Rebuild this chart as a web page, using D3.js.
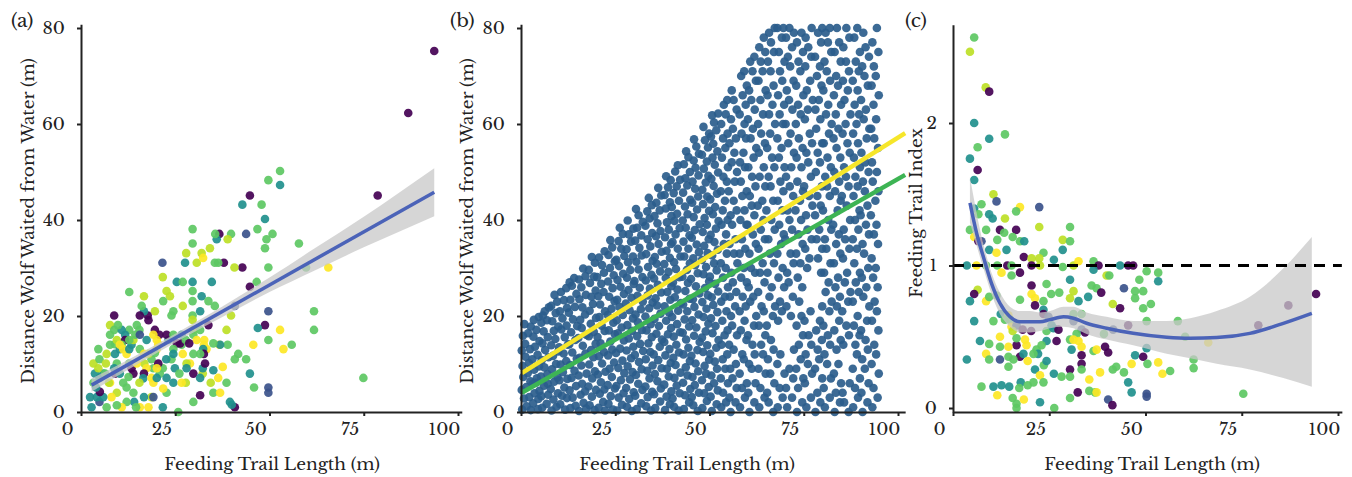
<!DOCTYPE html>
<meta charset="utf-8">
<style>
body { margin: 0; background: #fff; }
</style>
<svg width="1352" height="477"></svg>
<script src="https://d3js.org/d3.v7.min.js"></script>
<script>

var xTicks = [0, 25, 50, 75, 100];
var yTicksAB = [0, 20, 40, 60, 80];
var yTicksC = [0, 1, 2];
var panelLabels = ["(a)", "(b)", "(c)"];
var xTitle = "Feeding Trail Length (m)";
var yTitleAB = "Distance Wolf Waited from Water (m)";
var yTitleC = "Feeding Trail Index";

var font = "'Libre Baskerville'";
var fontSize = 17;

// P purple, B blue, T teal, G green, L lime, Y yellow
var palette = { P: "#440154", B: "#3b528b", T: "#21908d", G: "#5dc863", L: "#bddf26", Y: "#fde725" };

// (a) trail length vs distance waited
var pointsA = [[93.7,75.2,"P"],[86.8,62.3,"P"],[78.7,45.1,"P"],[52.8,50.2,"G"],[49.7,48.3,"G"],[52.8,47.3,"T"],[44.8,45.1,"P"],[42.8,43.2,"T"],[47.9,43.2,"G"],[48.8,40.2,"T"],[43.8,37.1,"B"],[46.8,38.1,"G"],[50.8,37.1,"G"],[49.2,36.0,"G"],[48.8,34.1,"G"],[57.8,35.1,"G"],[49.7,30.1,"G"],[42.8,30.1,"P"],[36.7,37.1,"P"],[39.8,37.1,"G"],[38.9,36.0,"L"],[29.6,38.1,"G"],[29.6,35.1,"G"],[36.0,36.0,"T"],[35.6,37.1,"G"],[34.2,34.1,"L"],[32.0,33.1,"L"],[30.7,31.1,"L"],[32.4,32.1,"Y"],[27.9,33.1,"L"],[27.6,31.1,"T"],[35.5,31.1,"G"],[37.9,31.1,"P"],[36.4,31.1,"G"],[40.7,30.1,"L"],[21.6,31.1,"B"],[21.7,28.1,"L"],[25.4,27.1,"T"],[27.0,27.1,"G"],[29.6,27.1,"T"],[34.7,27.1,"T"],[46.6,27.1,"G"],[44.8,26.1,"P"],[29.6,25.2,"G"],[22.7,25.2,"L"],[23.6,24.1,"L"],[21.8,23.1,"G"],[32.0,24.1,"T"],[29.6,23.1,"G"],[33.8,23.1,"G"],[27.0,22.1,"L"],[35.5,22.1,"G"],[40.8,22.1,"B"],[39.8,20.1,"L"],[31.6,21.0,"T"],[29.6,20.1,"G"],[24.5,21.0,"G"],[24.0,20.1,"G"],[19.6,21.0,"L"],[17.7,20.1,"P"],[16.7,21.0,"T"],[15.6,20.1,"P"],[16.7,24.1,"L"],[16.1,22.1,"G"],[8.8,20.1,"P"],[12.8,25.0,"G"],[7.7,18.1,"L"],[8.8,17.1,"G"],[12.8,17.1,"G"],[14.8,18.1,"G"],[17.9,19.1,"P"],[19.6,17.1,"P"],[20.8,16.1,"P"],[20.1,15.0,"Y"],[23.2,15.0,"T"],[22.7,16.1,"P"],[29.8,17.1,"L"],[29.6,19.2,"L"],[31.6,17.1,"G"],[33.8,18.1,"P"],[29.8,16.1,"G"],[30.7,15.0,"Y"],[38.6,17.1,"L"],[38.9,14.0,"G"],[36.7,14.0,"Y"],[32.7,15.0,"Y"],[32.6,14.0,"Y"],[33.3,13.1,"Y"],[48.8,18.1,"P"],[49.7,21.0,"B"],[52.8,17.1,"Y"],[53.7,13.1,"Y"],[55.9,14.0,"G"],[61.8,21.0,"G"],[61.8,17.1,"G"],[49.7,15.0,"G"],[46.9,17.5,"T"],[45.7,14.0,"Y"],[43.8,11.0,"G"],[41.7,12.1,"G"],[40.8,11.0,"G"],[37.6,9.4,"Y"],[44.8,8.0,"T"],[45.9,5.1,"G"],[49.7,5.1,"B"],[49.7,4.0,"B"],[74.9,7.1,"G"],[65.6,30.1,"Y"],[59.7,30.1,"G"],[39.5,2.1,"T"],[40.8,1.0,"P"],[32.4,13.1,"T"],[35.1,4.0,"G"],[36.9,4.0,"Y"],[31.6,3.5,"P"],[29.8,2.1,"G"],[29.8,8.0,"P"],[32.3,8.0,"L"],[32.3,9.1,"T"],[32.9,10.1,"P"],[32.6,12.1,"P"],[34.4,6.1,"L"],[36.4,7.1,"Y"],[36.9,14.0,"T"],[35.1,14.3,"G"],[27.8,6.1,"L"],[28.9,10.1,"Y"],[28.0,10.1,"L"],[27.0,12.1,"Y"],[26.7,14.0,"G"],[25.8,0,"G"],[26.3,14.3,"P"],[25.4,14.3,"P"],[24.5,13.1,"G"],[21.7,1.0,"T"],[24.0,11.0,"G"],[22.6,11.0,"T"],[21.7,9.1,"G"],[20.9,8.0,"G"],[22.7,7.1,"T"],[24.5,6.1,"T"],[22.7,4.0,"G"],[21.8,4.9,"Y"],[18.7,3.1,"L"],[17.9,1.0,"Y"],[15.6,1.0,"Y"],[16.7,3.1,"T"],[19.2,6.1,"Y"],[19.2,9.1,"G"],[18.7,11.0,"G"],[17.9,12.1,"L"],[20.1,13.1,"Y"],[20.5,14.1,"Y"],[19.2,16.1,"Y"],[17.4,15.0,"T"],[15.6,13.1,"G"],[16.7,12.1,"Y"],[16.8,10.1,"L"],[17.4,9.1,"Y"],[16.7,8.0,"P"],[16.5,7.0,"T"],[15.5,6.1,"L"],[13.9,4.0,"G"],[14.1,2.1,"T"],[14.6,1.0,"G"],[12.1,5.1,"G"],[12.1,2.1,"G"],[10.8,1.0,"Y"],[9.5,1.4,"G"],[9.5,4.0,"L"],[8.1,3.1,"Y"],[6.8,1.0,"G"],[4.9,2.1,"B"],[2.8,1.0,"T"],[2.4,3.1,"T"],[4.2,3.1,"T"],[5.9,3.1,"T"],[5.0,4.2,"P"],[4.0,5.1,"T"],[3.3,6.1,"G"],[4.9,7.1,"T"],[5.9,8.0,"T"],[3.7,8.0,"T"],[4.6,9.1,"L"],[3.3,10.1,"L"],[4.9,11.0,"G"],[4.6,13.1,"G"],[6.6,10.1,"L"],[6.8,12.1,"L"],[7.7,14.0,"G"],[9.0,14.1,"G"],[7.7,16.1,"G"],[6.4,8.0,"G"],[7.7,6.1,"Y"],[9.0,8.0,"P"],[9.5,10.1,"G"],[9.0,12.1,"T"],[10.3,13.1,"T"],[9.5,15.0,"L"],[11.7,16.1,"T"],[11.7,15.0,"P"],[10.8,14.0,"G"],[10.3,14.0,"Y"],[11.2,13.1,"Y"],[12.1,12.1,"Y"],[12.8,13.1,"T"],[12.8,10.1,"G"],[13.4,9.1,"P"],[13.9,8.0,"P"],[12.6,7.3,"G"],[11.2,6.1,"G"],[10.3,8.0,"T"],[8.8,9.1,"T"],[7.4,6.1,"L"],[14.8,10.1,"Y"],[13.4,14.0,"T"],[13.9,15.0,"L"],[12.8,15.0,"G"],[10.8,17.1,"T"],[9.8,18.1,"G"],[15.5,17.1,"G"],[14.4,16.1,"G"],[15.6,16.1,"B"],[31.6,7.1,"T"],[35.1,8.7,"T"],[18.7,7.1,"Y"],[20.1,7.1,"T"],[24.9,9.1,"T"],[26.1,8.0,"G"],[20.5,10.1,"P"],[19.6,12.3,"G"],[26.7,16.1,"T"],[24.5,16.1,"G"],[27.8,15.0,"G"],[28.7,14.3,"P"],[24.5,12.1,"T"],[20.1,9.1,"Y"],[31.6,12.1,"G"],[29.8,12.1,"G"],[28.0,9.1,"T"],[26.7,6.1,"Y"],[19.2,3.1,"B"],[38.6,6.1,"G"],[40.0,1.5,"T"]];
var fitA = [[2.8, 5.6], [93.7, 45.8]];
var bandA = [[2.8,4.2,7.0],[12,8.6,10.7],[25,14.5,16.3],[37.5,19.8,22.0],[50,25.0,28.0],[62,29.5,34.1],[75,34.3,40.7],[93.7,40.8,50.8]];

// (b) simulated cloud, read band by band as "x,y"
var pointsB = ("0.3,0.5 1.5,1.2 0.8,2.8 2.2,3.1 0.2,4.6 1.4,5.2 2.5,6.4 0.6,7.3 1.8,8.1 0.4,9.6 2.1,10.2 1.2,11.5 0.2,12.8 2.4,13.1 1.1,14.2 0.5,15.9 1.9,16.4 2.6,17.8 0.9,18.3 2.6,0.4 " +
  "3.2,1.8 4.5,0.6 3.6,3.9 4.9,4.4 3.1,5.9 4.2,7.0 3.5,8.8 4.8,9.5 3.0,11.0 4.4,11.9 3.7,13.6 4.9,14.8 3.3,15.7 4.1,17.1 3.4,19.2 4.7,19.8 4.6,2.7 3.9,6.1 " +
  "5.6,0.9 6.8,1.7 5.4,3.3 7.2,3.6 6.1,5.5 5.3,7.4 7.0,7.9 6.2,9.3 5.5,10.8 7.3,11.4 6.4,12.9 5.7,14.3 7.1,15.6 6.0,16.8 5.4,18.6 6.9,19.1 6.3,21.0 7.4,21.8 5.8,20.1 7.1,5.9 " +
  "8.1,0.3 9.4,1.1 8.6,2.6 9.8,3.9 7.9,4.8 8.8,6.3 9.7,7.2 8.2,8.9 9.3,10.0 8.5,11.7 9.9,12.6 8.0,13.9 9.1,15.2 8.7,16.9 9.9,17.8 8.3,18.9 9.2,20.6 8.0,22.1 9.6,23.0 8.9,24.4 " +
  "10.4,1.6 11.7,0.5 12.2,2.9 10.9,3.4 11.5,5.1 10.2,6.6 12.3,6.9 11.1,8.3 10.5,9.9 12.0,10.6 11.3,12.2 10.1,13.5 12.4,14.0 11.6,15.6 10.7,17.2 12.1,18.0 11.0,19.5 10.3,21.0 12.2,21.7 11.4,23.3 10.6,25.0 12.0,25.8 " +
  "13.1,0.8 14.5,1.3 13.7,3.0 12.9,4.5 14.6,5.4 13.4,7.1 14.2,8.6 13.0,9.8 14.8,11.1 13.6,12.4 12.8,14.1 14.4,15.0 13.3,16.6 14.9,17.9 13.8,19.3 12.7,20.7 14.3,21.9 13.1,23.4 14.7,24.6 13.5,26.3 14.1,27.9 12.9,27.0 " +
  "15.4,0.2 16.6,1.9 17.3,0.7 15.8,3.6 17.0,4.3 16.2,5.9 15.3,7.6 17.4,8.0 16.0,9.7 15.6,11.3 17.1,12.2 16.4,13.8 15.2,15.4 17.3,16.1 16.1,17.5 15.7,19.2 17.0,20.3 16.3,21.8 15.5,23.5 17.2,24.4 16.0,26.0 15.4,27.6 17.1,28.3 16.5,29.9 " +
  "18.2,1.4 19.5,0.4 18.8,3.2 19.9,4.6 17.9,5.3 18.9,7.0 19.6,8.5 18.1,9.9 19.2,11.4 18.6,12.9 19.8,14.2 18.0,15.8 19.3,16.7 18.5,18.4 19.9,19.6 18.2,21.1 19.1,22.5 18.7,24.0 19.8,25.3 18.3,26.9 19.4,28.2 18.0,29.6 19.6,31.1 18.8,32.3 " +
  "20.6,0.9 21.8,2.1 22.3,0.3 20.9,3.8 22.1,4.7 21.2,6.2 20.4,7.8 22.4,8.4 21.5,10.1 20.7,11.6 22.0,12.5 21.1,14.3 20.3,15.6 22.2,16.9 21.4,18.0 20.8,19.8 22.3,21.0 21.0,22.4 20.5,24.1 21.9,25.0 21.3,26.7 20.2,28.1 22.0,29.0 21.5,30.6 20.7,32.2 22.2,33.5 " +
  "23.2,1.7 24.4,0.5 23.8,3.3 24.9,4.9 23.0,5.6 24.1,7.3 23.5,9.0 24.7,10.3 23.1,11.8 24.2,13.0 23.7,14.7 24.9,16.2 23.3,17.0 24.5,18.6 23.0,20.2 24.0,21.5 24.8,23.1 23.4,24.0 24.3,25.8 23.1,27.2 24.6,28.5 23.6,30.0 24.9,31.4 23.2,32.7 24.2,34.3 23.7,35.8 " +
  "25.5,0.3 26.8,1.5 25.9,3.0 27.2,3.9 25.3,5.4 26.5,6.6 27.4,8.1 25.8,9.2 26.9,10.7 25.2,12.3 26.3,13.2 27.3,14.9 25.7,16.4 26.7,17.6 25.4,19.1 27.0,20.2 26.1,21.9 25.5,23.4 27.3,24.6 26.4,26.1 25.6,27.5 27.1,28.8 26.0,30.4 25.3,31.7 27.4,32.5 26.6,34.0 25.9,35.6 27.0,37.1 26.2,38.4 " +
  "28.1,1.1 29.4,0.2 28.7,2.7 29.9,4.1 27.9,5.0 28.9,6.8 29.6,8.3 28.3,9.5 29.2,11.2 28.0,12.8 29.8,13.6 28.6,15.3 29.4,16.9 28.2,18.1 29.7,19.5 28.8,21.2 27.8,22.6 29.3,23.8 28.5,25.4 29.9,26.7 28.1,28.0 29.0,29.6 28.4,31.2 29.7,32.4 28.0,33.9 29.2,35.5 28.6,37.0 29.8,38.2 28.3,39.9 " +
  "30.7,0.6 31.9,1.8 30.3,3.4 32.2,4.6 31.1,5.9 30.5,7.7 32.0,8.9 31.3,10.4 30.2,11.9 32.4,12.7 31.6,14.2 30.8,15.8 32.1,17.1 31.0,18.7 30.4,20.3 31.8,21.4 32.3,23.0 30.9,24.2 31.5,25.9 30.1,27.3 32.2,28.1 31.2,29.7 30.6,31.3 32.0,32.6 31.4,34.2 30.3,35.7 31.9,36.8 30.8,38.4 32.3,39.6 31.2,41.0 30.5,42.3 " +
  "33.2,1.2 34.5,0.3 33.6,3.1 34.8,4.2 33.0,5.3 34.1,7.0 33.5,8.6 34.9,9.7 33.1,11.0 34.3,12.5 33.8,14.3 34.7,15.6 33.3,17.0 34.4,18.3 33.0,19.9 34.0,21.6 34.9,22.8 33.6,24.3 34.2,25.7 33.1,27.4 34.6,28.6 33.7,30.2 34.9,31.5 33.2,32.9 34.3,34.5 33.6,36.0 34.8,37.3 33.0,38.8 34.1,40.3 33.5,41.8 34.7,43.1 33.9,44.6 " +
  "35.6,0.8 36.9,2.2 35.3,3.7 37.1,4.9 36.2,6.4 35.5,7.9 37.3,9.1 36.4,10.8 35.2,12.0 36.8,13.6 37.4,15.1 35.9,16.3 36.6,17.9 35.4,19.4 37.0,20.5 36.1,22.2 35.7,23.7 37.2,24.9 36.3,26.5 35.3,27.8 36.9,29.3 36.0,30.9 35.5,32.3 37.3,33.4 36.5,35.0 35.8,36.6 37.0,37.7 36.2,39.3 35.4,40.8 36.8,42.0 35.9,43.6 37.2,45.1 36.4,46.7 " +
  "38.2,0.4 39.5,1.6 38.6,3.2 39.9,4.3 38.0,5.7 39.2,7.4 38.7,9.0 39.7,10.2 38.3,11.8 39.4,13.1 38.0,14.6 39.0,16.2 39.8,17.5 38.5,19.0 39.3,20.7 38.1,22.0 39.6,23.4 38.8,25.0 39.9,26.2 38.4,27.9 39.1,29.2 38.0,30.8 39.5,32.1 38.6,33.6 39.8,35.0 38.2,36.4 39.2,38.0 38.7,39.5 39.9,40.8 38.4,42.4 39.5,43.7 38.1,45.2 39.0,46.8 39.7,48.3 38.5,49.1 " +
  "40.6,1.1 41.8,0.3 40.2,2.8 42.1,3.9 41.3,5.5 40.7,7.1 42.3,8.2 41.0,9.8 40.4,11.3 41.9,12.4 41.2,14.0 40.5,15.7 42.2,16.6 41.4,18.3 40.1,19.8 41.7,21.1 42.4,22.7 40.8,23.9 41.5,25.5 40.3,27.0 42.0,28.1 41.1,29.8 40.6,31.2 42.3,32.4 41.6,34.0 40.2,35.4 41.0,37.0 42.1,38.3 40.7,39.8 41.4,41.3 40.0,42.7 41.9,44.0 40.5,45.6 41.3,47.0 42.2,48.4 40.9,50.1 41.6,51.4 " +
  "43.2,0.6 44.6,2.0 43.5,3.5 44.9,4.8 43.0,6.1 44.2,7.6 43.7,9.3 44.8,10.6 43.1,12.0 44.4,13.4 43.8,15.1 42.9,16.5 44.6,17.8 43.4,19.3 44.1,21.0 43.0,22.4 44.7,23.6 43.6,25.2 44.3,26.9 42.8,28.2 44.0,29.6 44.8,31.0 43.3,32.4 44.4,34.0 43.1,35.5 44.7,36.8 43.7,38.4 42.9,39.9 44.2,41.2 43.5,42.8 44.9,44.2 43.0,45.7 44.1,47.2 43.6,48.7 44.8,50.0 43.2,51.6 44.4,53.1 43.8,54.3 " +
  "45.7,1.4 46.9,0.2 45.3,3.1 47.2,4.0 46.1,5.6 45.5,7.3 47.0,8.5 46.3,10.1 45.2,11.7 46.8,12.9 47.4,14.6 45.9,15.9 46.5,17.6 45.4,19.1 47.1,20.3 46.0,21.9 45.6,23.5 47.3,24.7 46.4,26.2 45.1,27.7 46.9,28.9 46.2,30.6 45.7,32.0 47.2,33.3 46.6,34.9 45.3,36.3 46.1,37.9 47.4,39.1 45.8,40.6 46.7,42.2 45.4,43.6 47.0,44.9 46.2,46.5 45.5,48.0 47.1,49.3 46.3,50.9 45.8,52.4 47.2,53.8 46.5,55.3 45.9,56.8 " +
  "48.1,0.8 49.3,2.3 48.6,3.9 49.8,5.2 48.0,6.6 49.1,8.0 48.7,9.6 49.9,10.9 48.3,12.5 49.4,13.9 48.0,15.5 49.0,16.8 49.7,18.4 48.4,19.8 49.2,21.5 48.1,22.9 49.6,24.3 48.8,25.8 49.9,27.2 48.4,28.7 49.1,30.2 48.0,31.7 49.5,33.1 48.6,34.6 49.8,36.0 48.2,37.5 49.3,39.0 48.7,40.4 49.9,41.9 48.3,43.3 49.4,44.9 48.1,46.3 49.0,47.8 49.7,49.2 48.5,50.7 49.3,52.2 48.0,53.6 49.6,55.1 48.8,56.6 49.9,58.0 48.4,59.4 " +
  "50.6,0.2 51.9,1.6 50.3,3.2 52.2,4.5 51.2,6.0 50.5,7.6 52.0,9.0 51.4,10.5 50.2,12.1 51.8,13.4 52.4,15.0 50.8,16.4 51.6,17.9 50.4,19.5 52.1,20.8 51.0,22.3 50.6,23.9 52.3,25.1 51.5,26.7 50.1,28.2 51.9,29.5 51.2,31.0 50.7,32.6 52.2,33.8 51.3,35.4 50.3,36.9 51.7,38.2 52.4,39.8 50.9,41.2 51.5,42.7 50.2,44.3 52.0,45.5 51.1,47.1 50.5,48.6 52.3,49.9 51.4,51.5 50.8,53.0 52.1,54.3 51.0,55.9 50.4,57.4 51.8,58.7 51.2,60.3 50.7,61.8 52.3,62.2 " +
  "53.1,1 54.4,2 53.6,4 54.9,6 53.0,7 54.2,9 53.5,11 54.7,12 53.2,14 54.0,16 54.8,17 53.4,19 54.5,21 53.1,23 54.1,24 54.9,26 53.6,28 54.3,30 53.0,31 54.6,33 53.8,35 54.4,37 53.2,39 54.8,40 53.5,42 54.1,44 53.0,46 54.6,48 53.7,49 54.9,51 53.3,53 54.2,55 53.6,57 54.8,58 53.1,60 54.3,62 53.8,64 54.7,65 " +
  "55.6,0 56.9,2 55.3,3 57.2,5 56.1,7 55.5,9 57.0,10 56.4,13 55.2,14 57.3,16 56.0,18 55.7,20 56.8,22 55.4,24 57.1,25 56.2,27 55.8,29 57.4,31 56.5,33 55.3,35 56.9,36 56.0,39 55.6,41 57.2,42 56.4,44 55.1,46 56.7,48 57.3,50 55.9,52 56.6,54 55.3,56 57.0,57 56.2,59 55.7,61 57.2,63 56.4,65 55.9,67 " +
  "58.1,1 59.4,3 58.6,5 59.9,6 58.0,8 59.1,11 58.7,12 59.8,15 58.3,17 59.3,19 58.0,21 59.6,22 58.8,24 59.9,27 58.4,28 59.1,30 58.0,33 59.5,34 58.6,36 59.8,39 58.2,40 59.3,42 58.7,45 59.9,46 58.3,48 59.4,51 58.1,52 59.0,54 59.7,57 58.5,58 59.3,60 58.0,62 59.6,64 58.8,66 59.9,68 58.4,70 59.2,71 " +
  "60.6,0 61.9,2 60.3,4 62.2,6 61.2,9 60.5,10 62.0,12 61.4,14 60.2,16 61.8,18 62.4,20 60.8,23 61.6,24 60.4,26 62.1,29 61.0,30 60.6,33 62.3,35 61.5,37 60.1,39 61.9,41 61.2,43 60.7,45 62.2,47 61.3,49 60.3,51 61.7,53 62.4,55 60.9,57 61.5,59 60.2,61 62.0,63 61.1,65 60.5,67 62.3,69 61.4,71 60.8,73 61.9,74 " +
  "63.2,1 64.6,3 63.5,5 64.9,8 63.0,9 64.2,12 63.7,14 64.8,16 63.1,18 64.4,21 63.8,22 62.9,25 64.6,27 63.4,29 64.1,31 63.0,34 64.7,36 63.6,38 64.3,40 62.8,43 64.0,44 64.8,47 63.3,49 64.4,51 63.1,54 64.7,56 63.7,58 62.9,60 64.2,62 63.5,65 64.9,67 63.0,69 64.1,71 63.6,73 64.8,75 63.2,76 64.4,78 " +
  "65.7,2 66.9,0 65.3,4 67.2,6 66.1,8 65.5,11 67.0,13 66.3,15 65.2,18 66.8,20 67.4,22 65.9,24 66.5,26 65.4,29 67.1,31 66.0,33 65.6,36 67.3,38 66.4,40 65.1,42 66.9,44 66.2,47 65.7,49 67.2,51 66.6,53 65.3,55 66.1,58 67.4,60 65.8,62 66.7,64 65.4,66 67.0,68 66.2,71 65.5,73 67.1,75 66.3,77 65.8,79 67.3,80 " +
  "68.1,1 69.4,3 68.6,5 69.9,8 68.0,10 68.8,12 68.2,19 69.2,21 68.7,23 69.8,26 68.3,28 69.4,30 68.0,33 69.0,35 69.7,37 68.5,39 69.3,42 68.1,44 69.6,46 68.8,48 69.9,51 68.4,53 69.1,55 68.0,57 69.5,60 68.6,62 69.8,64 68.2,66 69.3,69 68.7,71 69.9,73 68.4,75 69.2,78 68.0,80 69.6,80 " +
  "70.6,1 71.9,3 70.3,5 72.2,7 71.2,9 72.4,13 71.6,20 70.4,22 72.1,24 71.0,27 70.6,29 72.3,31 71.5,33 70.1,36 71.9,38 71.2,40 70.7,42 72.2,45 71.3,47 70.3,49 71.7,51 72.4,54 70.9,56 71.5,58 70.2,60 72.0,63 71.1,65 70.5,67 72.3,69 71.4,72 70.8,74 71.9,76 70.3,78 71.2,80 72.4,79 " +
  "73.2,0 74.6,2 73.5,5 74.9,7 73.0,9 74.2,11 73.7,14 74.8,16 73.1,18 74.4,20 73.8,23 74.6,26 73.4,28 74.1,31 73.0,33 74.7,35 73.6,37 74.3,40 72.8,42 74.0,44 74.8,46 73.3,48 74.4,51 73.1,53 74.7,55 73.7,57 72.9,60 74.2,62 73.5,64 74.9,66 73.0,68 74.1,71 73.6,73 74.8,75 73.2,77 74.4,79 " +
  "75.7,1 76.9,3 75.3,6 77.2,8 76.1,10 75.5,12 77.0,14 76.3,16 75.2,19 76.8,21 75.9,30 76.5,32 75.4,34 77.1,36 76.0,38 75.6,41 77.3,43 76.4,45 75.1,47 76.9,49 76.2,52 75.7,54 77.2,56 76.6,58 75.3,61 76.1,63 77.4,65 75.8,67 76.7,69 75.4,72 77.0,74 76.2,76 75.5,78 77.1,80 " +
  "78.1,0 79.4,2 78.6,4 79.9,7 78.0,9 79.1,11 78.7,13 79.8,15 78.3,17 79.3,19 79.9,22 79.6,29 78.8,32 79.9,34 78.4,36 79.1,38 78.0,41 79.5,43 78.6,45 79.8,47 78.2,50 79.3,52 78.7,54 79.9,56 78.3,59 79.4,61 78.1,63 79.0,65 79.7,68 78.5,70 79.3,72 78.0,74 79.6,77 78.8,79 79.9,80 " +
  "80.6,1 81.9,3 80.3,5 82.2,7 81.2,10 80.5,12 82.0,14 81.4,16 80.2,18 81.8,21 82.4,23 80.8,25 81.6,27 80.4,29 82.1,31 81.0,34 80.6,36 82.3,38 81.5,40 80.1,42 81.9,45 81.2,47 80.7,49 82.2,51 81.3,53 80.3,56 81.7,58 82.4,60 80.9,62 81.5,64 80.2,67 82.0,69 81.1,71 80.5,73 82.3,75 81.4,77 80.8,79 81.9,80 " +
  "83.2,0 84.6,2 83.5,4 84.9,6 83.0,8 84.2,10 83.7,13 84.8,15 83.1,17 84.4,19 83.8,22 84.6,24 83.4,26 84.1,28 83.0,31 84.7,33 83.6,35 84.3,37 82.8,39 84.0,42 84.8,44 83.3,46 84.4,48 83.1,50 84.7,53 83.7,55 82.9,57 84.2,59 83.5,62 84.9,64 83.0,66 84.1,68 83.6,70 84.8,73 83.2,75 84.4,77 83.8,80 " +
  "85.7,2 86.9,0 85.3,4 87.2,6 85.5,14 87.0,16 86.3,18 85.2,21 86.8,23 87.4,25 85.9,27 86.5,29 85.4,32 87.1,34 86.0,36 85.6,38 87.3,40 86.4,43 85.1,45 86.9,47 86.2,49 85.7,51 87.2,54 86.6,56 85.3,58 86.1,60 87.4,62 85.8,65 86.7,67 85.4,69 87.0,71 86.2,73 85.5,76 87.1,78 86.3,80 " +
  "88.1,1 89.4,3 88.6,5 89.9,7 88.0,9 89.1,12 88.7,14 89.8,16 88.3,18 89.3,20 88.0,23 89.6,25 88.8,27 89.9,29 88.4,31 89.1,34 88.0,36 89.5,38 88.6,40 89.8,42 88.2,45 89.3,47 88.7,49 89.9,51 88.3,53 89.4,56 88.1,58 89.0,60 89.7,62 88.5,64 89.3,67 88.0,69 89.6,71 88.8,73 89.9,75 88.4,78 89.2,80 " +
  "90.6,0 91.9,2 90.3,4 92.2,6 91.2,9 90.5,11 92.0,13 91.4,15 90.2,17 91.8,19 92.4,22 90.8,24 91.6,26 90.4,28 92.1,30 91.0,33 90.6,35 92.3,37 91.5,39 90.1,41 91.9,43 91.2,46 90.7,48 92.2,50 91.3,52 90.3,54 91.7,57 92.4,59 90.9,61 91.5,63 90.2,65 92.0,68 91.1,70 90.5,72 92.3,74 91.4,76 90.8,79 " +
  "93.2,1 94.6,3 93.5,5 94.9,8 93.0,10 94.2,12 93.7,14 94.8,17 93.1,19 94.4,21 93.8,23 94.6,26 93.4,28 94.1,30 93.0,32 94.7,35 93.6,37 94.3,39 92.8,41 94.0,44 94.8,46 93.3,48 94.4,50 93.1,52 94.7,55 93.7,57 92.9,59 94.2,61 93.5,64 94.9,66 93.0,68 94.1,70 93.6,72 94.8,75 93.2,77 94.4,80")
  .split(" ").map(function(s) { var p = s.split(","); return [+p[0], +p[1]]; });
var fitYellow = [[0.2, 8.1], [101.9, 58.1]];
var fitGreen = [[0.2, 4.0], [101.9, 49.4]];

// (c) trail length vs feeding trail index
var pointsC = [[5.5,2.60,"G"],[4.4,2.50,"L"],[8.5,2.25,"L"],[9.4,2.22,"P"],[5.5,2.00,"T"],[13.5,1.92,"G"],[9.4,1.89,"T"],[6.4,1.83,"G"],[4.4,1.75,"T"],[6.4,1.67,"P"],[5.5,1.60,"T"],[10.5,1.50,"L"],[11.3,1.45,"B"],[7.4,1.43,"G"],[5.5,1.40,"T"],[17.4,1.41,"Y"],[16.4,1.38,"G"],[22.4,1.41,"B"],[9.4,1.36,"T"],[6.6,1.36,"G"],[13.5,1.33,"L"],[10.3,1.33,"T"],[4.4,1.25,"G"],[12.2,1.25,"P"],[13.3,1.23,"G"],[16.4,1.25,"P"],[22.4,1.27,"L"],[30.4,1.27,"G"],[5.5,1.20,"Y"],[8.6,1.25,"G"],[7.4,1.17,"B"],[6.6,1.17,"P"],[11.5,1.18,"G"],[15.5,1.20,"G"],[17.4,1.17,"G"],[18.5,1.17,"T"],[28.5,1.18,"L"],[30.4,1.17,"G"],[9.4,1.11,"T"],[13.9,1.11,"T"],[11.3,1.09,"Y"],[23.5,1.09,"G"],[22.4,1.05,"L"],[18.4,1.06,"P"],[20.4,1.05,"L"],[26.2,1.04,"T"],[28.5,1.11,"T"],[3.6,1.0,"T"],[6.1,1.0,"Y"],[8.6,1.0,"G"],[11.5,1.0,"G"],[14.1,1.0,"P"],[20.4,1.0,"P"],[22.6,1.0,"L"],[15.2,1.0,"G"],[31.3,1.0,"L"],[32.6,1.03,"Y"],[36.5,1.03,"G"],[37.8,1.0,"P"],[43.4,1.0,"T"],[45.5,1.0,"P"],[28.5,0.99,"G"],[36.5,0.97,"T"],[17.4,0.95,"P"],[15.2,0.93,"G"],[12.6,0.95,"Y"],[39.9,0.93,"L"],[40.6,0.93,"G"],[50.3,0.96,"G"],[53.3,0.95,"G"],[53.3,0.89,"T"],[48.4,0.90,"G"],[44.4,0.84,"B"],[30.4,0.90,"T"],[24.3,0.87,"G"],[20.4,0.86,"P"],[36.0,0.86,"G"],[37.3,0.84,"G"],[38.5,0.81,"P"],[47.3,0.82,"G"],[49.4,0.82,"G"],[6.4,0.83,"L"],[5.5,0.80,"P"],[4.4,0.75,"T"],[8.6,0.75,"Y"],[9.4,0.78,"G"],[11.3,0.79,"G"],[17.4,0.76,"G"],[20.4,0.80,"Y"],[21.3,0.77,"Y"],[21.3,0.72,"P"],[23.5,0.75,"G"],[23.5,0.69,"T"],[25.5,0.80,"G"],[27.6,0.81,"G"],[30.4,0.77,"L"],[32.6,0.75,"T"],[31.3,0.82,"L"],[35.1,0.78,"T"],[41.5,0.73,"L"],[43.4,0.70,"P"],[47.3,0.77,"G"],[49.4,0.70,"G"],[51.4,0.73,"G"],[5.5,0.61,"T"],[12.4,0.66,"T"],[14.4,0.65,"Y"],[13.5,0.62,"G"],[14.8,0.62,"G"],[10.5,0.61,"G"],[15.2,0.57,"Y"],[16.5,0.58,"B"],[15.5,0.54,"L"],[18.1,0.55,"P"],[20.3,0.54,"P"],[23.5,0.66,"P"],[24.8,0.64,"B"],[24.3,0.54,"G"],[25.6,0.58,"T"],[26.1,0.56,"T"],[27.4,0.55,"P"],[31.3,0.61,"B"],[33.4,0.55,"B"],[34.3,0.53,"P"],[33.4,0.66,"G"],[31.3,0.66,"G"],[32.1,0.52,"G"],[30.4,0.48,"G"],[31.3,0.48,"Y"],[32.6,0.47,"Y"],[33.4,0.43,"Y"],[33.4,0.37,"P"],[33.4,0.31,"P"],[33.4,0.27,"G"],[30.8,0.41,"T"],[26.9,0.47,"P"],[24.3,0.47,"T"],[23.0,0.44,"G"],[21.7,0.41,"G"],[22.1,0.38,"T"],[20.9,0.38,"G"],[19.1,0.44,"Y"],[18.7,0.48,"Y"],[16.5,0.44,"P"],[14.4,0.43,"Y"],[16.5,0.49,"G"],[12.2,0.50,"Y"],[12.2,0.43,"G"],[9.4,0.45,"G"],[7.0,0.47,"T"],[8.6,0.38,"Y"],[9.4,0.34,"G"],[3.6,0.34,"T"],[12.2,0.34,"B"],[14.4,0.36,"G"],[14.4,0.29,"G"],[17.4,0.36,"P"],[15.7,0.34,"G"],[18.3,0.38,"T"],[19.4,0.33,"Y"],[21.3,0.27,"T"],[22.6,0.23,"Y"],[23.6,0.30,"G"],[24.3,0.33,"T"],[26.2,0.24,"T"],[28.2,0.22,"G"],[30.4,0.27,"P"],[23.5,0.18,"G"],[22.6,0.04,"T"],[26.3,0.0,"G"],[30.4,0.07,"G"],[32.4,0.11,"P"],[35.4,0.12,"G"],[36.9,0.11,"G"],[37.3,0.11,"Y"],[35.4,0.20,"Y"],[38.2,0.25,"Y"],[36.5,0.40,"G"],[37.3,0.41,"Y"],[39.5,0.43,"P"],[40.3,0.39,"P"],[41.5,0.27,"G"],[42.4,0.29,"G"],[44.4,0.25,"G"],[46.4,0.31,"Y"],[47.3,0.37,"T"],[49.4,0.36,"P"],[50.3,0.42,"T"],[50.5,0.31,"G"],[53.3,0.32,"Y"],[54.4,0.24,"Y"],[56.4,0.26,"G"],[45.5,0.18,"T"],[46.4,0.11,"T"],[50.3,0.10,"B"],[50.3,0.08,"B"],[40.3,0.06,"B"],[41.4,0.02,"P"],[62.5,0.34,"G"],[62.5,0.28,"G"],[75.4,0.10,"G"],[58.4,0.61,"G"],[60.3,0.50,"G"],[66.3,0.46,"Y"],[79.3,0.58,"P"],[87.1,0.72,"P"],[94.3,0.80,"P"],[50.3,0.61,"G"],[45.5,0.58,"P"],[41.6,0.55,"B"],[39.2,0.52,"G"],[46.8,1.0,"P"],[7.4,0.15,"G"],[10.5,0.15,"T"],[12.6,0.16,"T"],[11.5,0.09,"Y"],[14.6,0.15,"T"],[15.5,0.07,"G"],[16.5,0.03,"G"],[17.6,0.18,"T"],[17.2,0.14,"G"],[18.4,0.06,"Y"],[19.4,0.16,"G"],[20.9,0.18,"G"],[16.5,0.0,"G"],[30.4,0.22,"G"]];
var smoothC = [[4.4,1.44],[6.1,1.23],[7.9,1.06],[10.0,0.875],[12.2,0.735],[14.8,0.64],[17.4,0.605],[20.0,0.605],[22.6,0.605],[25.2,0.62],[28.7,0.64],[31.3,0.63],[34.7,0.595],[39.9,0.56],[46.8,0.524],[55.5,0.496],[61.6,0.489],[68.5,0.494],[77.1,0.524],[85.8,0.594],[93.2,0.664]];
var bandC = [[4.4,1.30,1.62],[7.9,0.98,1.15],[10.0,0.80,0.95],[12.2,0.66,0.81],[14.8,0.57,0.71],[17.4,0.53,0.68],[20.0,0.53,0.68],[22.6,0.54,0.67],[25.2,0.56,0.68],[28.7,0.57,0.71],[31.3,0.56,0.71],[34.7,0.52,0.67],[39.9,0.48,0.64],[46.8,0.44,0.61],[55.5,0.38,0.61],[61.6,0.35,0.63],[68.5,0.31,0.68],[77.1,0.27,0.78],[85.8,0.21,0.98],[93.2,0.15,1.20]];
var refLineC = 1;

var svg = d3.select("svg");

function drawAxes(g, x, y, yTicks) {
  var gx = g.append("g")
      .attr("transform", "translate(0," + y.range()[0] + ")")
      .call(d3.axisBottom(x).tickValues(xTicks).tickSize(4).tickSizeOuter(0).tickPadding(7)
        .tickFormat(d3.format("d")));
  gx.selectAll("text").attr("x", -14);
  var gy = g.append("g")
      .attr("transform", "translate(" + x.range()[0] + ",0)")
      .call(d3.axisLeft(y).tickValues(yTicks).tickSize(4).tickSizeOuter(0).tickPadding(12)
        .tickFormat(d3.format("d")));
  [gx, gy].forEach(function(a) {
    a.selectAll("path, line").attr("stroke", "#222").attr("stroke-width", 2);
  });
}

function titles(g, label, lx, xt, xtx, yt, ytx, yty) {
  g.append("text").attr("class", "plabel").attr("x", lx).attr("y", 27).text(label);
  g.append("text").attr("x", xtx).attr("y", 470)
      .attr("text-anchor", "middle").text(xt);
  g.append("text").attr("text-anchor", "middle")
      .attr("transform", "translate(" + ytx + "," + yty + ") rotate(-90)")
      .attr("dy", "0.35em").text(yt);
}

function dots(g, data, x, y, color) {
  g.append("g").selectAll("circle")
    .data(data)
    .enter().append("circle")
      .attr("cx", function(d) { return x(d[0]); })
      .attr("cy", function(d) { return y(d[1]); })
      .attr("r", 4.3)
      .attr("fill", function(d) { return color || palette[d[2]]; })
      .attr("opacity", 0.92);
}

// ---- panel a
var xA = d3.scaleLinear().domain([0, 101]).range([81, 81 + 101 * 3.77]),
    yA = d3.scaleLinear().domain([0, 80.8]).range([412, 412 - 80.8 * 4.8]);
var gA = svg.append("g");
dots(gA, pointsA, xA, yA);
gA.append("path").datum(bandA)
    .attr("d", d3.area().curve(d3.curveMonotoneX)
      .x(function(d) { return xA(d[0]); })
      .y0(function(d) { return yA(d[1]); })
      .y1(function(d) { return yA(d[2]); }))
    .attr("fill", "#c8c8c8").attr("opacity", 0.75);
gA.append("path").datum(fitA)
    .attr("d", d3.line().x(function(d) { return xA(d[0]); }).y(function(d) { return yA(d[1]); }))
    .attr("fill", "none").attr("stroke", "#4b63b8").attr("stroke-width", 3.5);
drawAxes(gA, xA, yA, yTicksAB);
titles(gA, panelLabels[0], 11, xTitle, 272, yTitleAB, 28, 221);

// ---- panel b
var xB = d3.scaleLinear().domain([0, 101.9]).range([521, 521 + 101.9 * 3.77]),
    yB = d3.scaleLinear().domain([0, 80.8]).range([412, 412 - 80.8 * 4.8]);
var gB = svg.append("g");
dots(gB, pointsB, xB, yB, "#2b5d8c");
var lineB = d3.line().x(function(d) { return xB(d[0]); }).y(function(d) { return yB(d[1]); });
gB.append("path").datum(fitYellow).attr("d", lineB)
    .attr("fill", "none").attr("stroke", "#f6e62a").attr("stroke-width", 4.5);
gB.append("path").datum(fitGreen).attr("d", lineB)
    .attr("fill", "none").attr("stroke", "#3db454").attr("stroke-width", 4.5);
drawAxes(gB, xB, yB, yTicksAB);
titles(gB, panelLabels[1], 450, xTitle, 687, yTitleAB, 467, 221);

// ---- panel c
var xC = d3.scaleLinear().domain([0, 101]).range([953, 953 + 101 * 3.85]),
    yC = d3.scaleLinear().domain([-0.028, 2.69]).range([412, 412 - 2.718 * 142.5]);
var gC = svg.append("g");
dots(gC, pointsC, xC, yC);
gC.append("path").datum(bandC)
    .attr("d", d3.area().curve(d3.curveMonotoneX)
      .x(function(d) { return xC(d[0]); })
      .y0(function(d) { return yC(d[1]); })
      .y1(function(d) { return yC(d[2]); }))
    .attr("fill", "#c8c8c8").attr("opacity", 0.75);
gC.append("path").datum(smoothC)
    .attr("d", d3.line().curve(d3.curveMonotoneX)
      .x(function(d) { return xC(d[0]); }).y(function(d) { return yC(d[1]); }))
    .attr("fill", "none").attr("stroke", "#4b63b8").attr("stroke-width", 3.5);
gC.append("line")
    .attr("x1", xC.range()[0]).attr("x2", xC.range()[1])
    .attr("y1", yC(refLineC)).attr("y2", yC(refLineC))
    .attr("stroke", "#000").attr("stroke-width", 3).attr("stroke-dasharray", "11,8");
drawAxes(gC, xC, yC, yTicksC);
titles(gC, panelLabels[2], 905, xTitle, 1152, yTitleC, 916, 213);

// one font for every text, set last so it wins over the axis defaults
svg.selectAll("g").filter(function() { return this.hasAttribute("font-family"); })
    .attr("font-family", null).attr("font-size", null);
svg.selectAll("text")
    .attr("font-family", font)
    .attr("font-size", fontSize)
    .attr("fill", "#222");
svg.selectAll("text.plabel").attr("font-size", 19);

</script>
